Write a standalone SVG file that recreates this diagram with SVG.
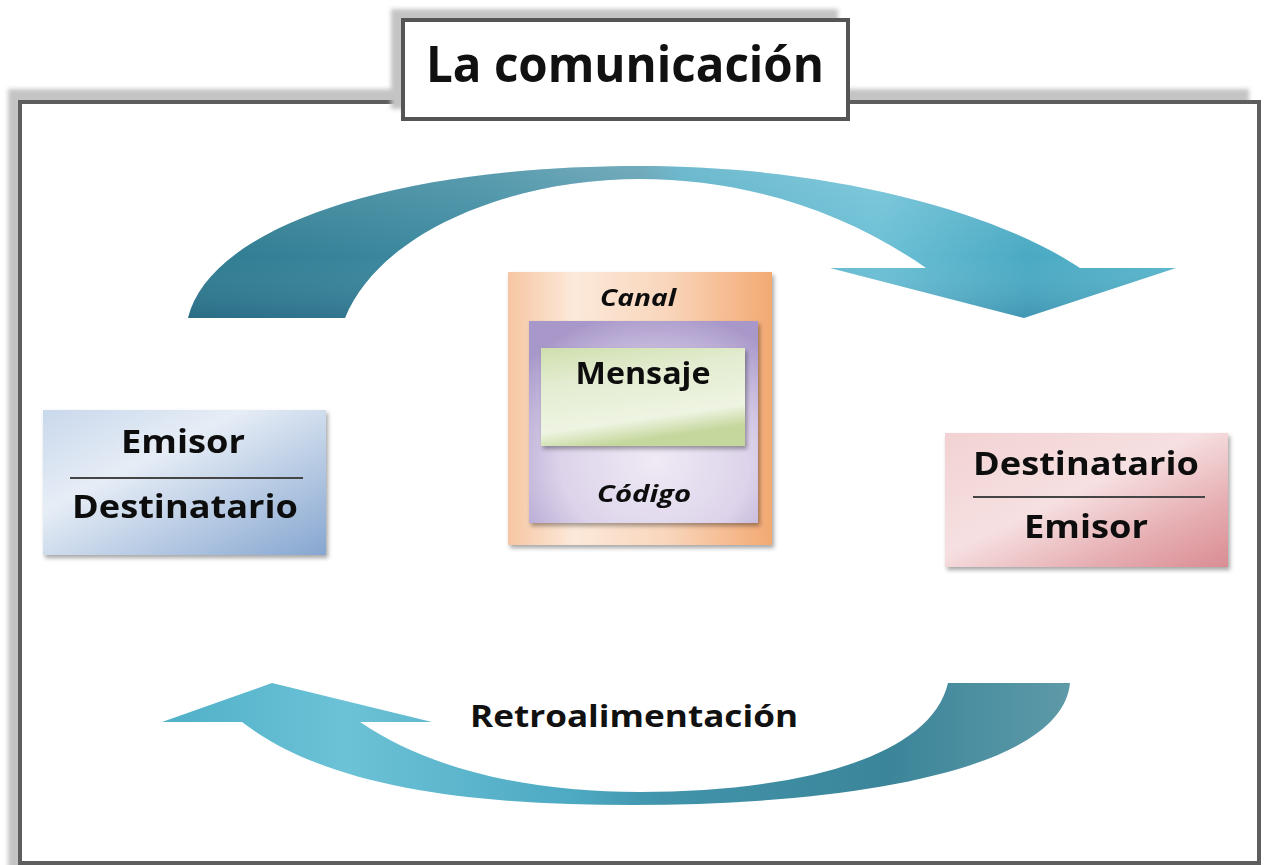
<svg xmlns="http://www.w3.org/2000/svg" width="1266" height="865" viewBox="0 0 1266 865">
<defs>
<style>
.t{font-family:"Open Sans","DejaVu Sans",sans-serif;font-weight:bold;fill:#111;text-anchor:middle}
.it{font-style:italic}
.sep{stroke:#444;stroke-width:2}
</style>
<filter id="sh" x="-10%" y="-10%" width="125%" height="125%"><feDropShadow dx="2" dy="3" stdDeviation="2" flood-color="#000" flood-opacity="0.35"/></filter>
<filter id="blur" x="-5%" y="-5%" width="110%" height="110%"><feGaussianBlur stdDeviation="2"/></filter>
<linearGradient id="gTop" x1="0" y1="0" x2="1" y2="0">
<stop offset="0" stop-color="#2f7b90"/><stop offset="0.3" stop-color="#3f8ca2"/><stop offset="0.46" stop-color="#5a9db0"/><stop offset="0.5" stop-color="#56aec6"/><stop offset="0.7" stop-color="#6cc0d5"/><stop offset="0.85" stop-color="#4aaac3"/><stop offset="1" stop-color="#5bb6cc"/>
</linearGradient>
<linearGradient id="gTopV" x1="0" y1="0" x2="0" y2="1">
<stop offset="0" stop-color="#fff" stop-opacity="0.15"/><stop offset="0.6" stop-color="#fff" stop-opacity="0"/><stop offset="1" stop-color="#003" stop-opacity="0.12"/>
</linearGradient>
<linearGradient id="gBot" x1="0" y1="0" x2="1" y2="0">
<stop offset="0" stop-color="#4fb0c8"/><stop offset="0.2" stop-color="#6cc2d6"/><stop offset="0.45" stop-color="#4daac3"/><stop offset="0.55" stop-color="#4194ab"/><stop offset="0.8" stop-color="#3b8599"/><stop offset="1" stop-color="#5e9aa8"/>
</linearGradient>
<linearGradient id="gBlue" x1="0" y1="0" x2="1" y2="1">
<stop offset="0" stop-color="#c9d8ec"/><stop offset="0.35" stop-color="#e6edf6"/><stop offset="1" stop-color="#86a6d0"/>
</linearGradient>
<linearGradient id="gPink" x1="0" y1="0" x2="1" y2="1">
<stop offset="0" stop-color="#f2d2d3"/><stop offset="0.45" stop-color="#f6e0e1"/><stop offset="0.75" stop-color="#e6aeb2"/><stop offset="1" stop-color="#d98d93"/>
</linearGradient>
<linearGradient id="gOrange" x1="0" y1="0" x2="1" y2="0">
<stop offset="0" stop-color="#f6c6a2"/><stop offset="0.25" stop-color="#fce9da"/><stop offset="0.6" stop-color="#f9d6bc"/><stop offset="1" stop-color="#f3a972"/>
</linearGradient>
<radialGradient id="gPurple" cx="0.55" cy="0.7" r="0.75">
<stop offset="0" stop-color="#efeaf5"/><stop offset="0.55" stop-color="#ddd3ea"/><stop offset="1" stop-color="#a898ca"/>
</radialGradient>
<linearGradient id="gGreen" x1="0" y1="0" x2="0.3" y2="1">
<stop offset="0" stop-color="#cfdfae"/><stop offset="0.35" stop-color="#e3ecd0"/><stop offset="0.8" stop-color="#eef4e2"/><stop offset="1" stop-color="#c4d79c"/>
</linearGradient>
</defs>

<g id="frame">
<rect x="8" y="89" width="1241" height="790" fill="#c4c4c4" filter="url(#blur)"/>
<rect x="20" y="102" width="1239" height="761" fill="#fff" stroke="#5e5e5e" stroke-width="4"/>
</g>

<g id="title">
<rect x="391" y="9" width="447" height="100" fill="#c4c4c4" filter="url(#blur)"/>
<rect x="403" y="20" width="445" height="99" fill="#fff" stroke="#555" stroke-width="4"/>
<text class="t" x="625" y="82" font-size="50" textLength="398" lengthAdjust="spacingAndGlyphs">La comunicación</text>
</g>

<g id="connectors">
<g id="arrow-top">
<path d="M188,318 C210,228 390,166 640,166 C820,166 990,208 1080,268 L1176,268 L1024,318 L830,268 L926,268 C840,208 740,179 640,179 C510,179 380,232 345,318 Z" fill="url(#gTop)"/>
<path d="M188,318 C210,228 390,166 640,166 C820,166 990,208 1080,268 L1176,268 L1024,318 L830,268 L926,268 C840,208 740,179 640,179 C510,179 380,232 345,318 Z" fill="url(#gTopV)"/>
</g>
<g id="arrow-bottom">
<path d="M1070,683 C1062,770 850,805 632,805 C480,805 330,790 242,722 L162,722 L272,683 L432,722 L360,722 C430,770 530,792 640,792 C790,792 930,760 948,683 Z" fill="url(#gBot)"/>
</g>
</g>

<g id="emisor" filter="url(#sh)">
<rect x="43" y="410" width="283" height="145" fill="url(#gBlue)"/>
<text class="t" x="183" y="453" font-size="32" textLength="124" lengthAdjust="spacingAndGlyphs">Emisor</text>
<line class="sep" x1="70" y1="478" x2="303" y2="478"/>
<text class="t" x="185" y="518" font-size="32" textLength="226" lengthAdjust="spacingAndGlyphs">Destinatario</text>
</g>

<g id="destinatario" filter="url(#sh)">
<rect x="945" y="433" width="283" height="134" fill="url(#gPink)"/>
<text class="t" x="1086" y="475" font-size="32" textLength="226" lengthAdjust="spacingAndGlyphs">Destinatario</text>
<line class="sep" x1="973" y1="497" x2="1205" y2="497"/>
<text class="t" x="1086" y="538" font-size="32" textLength="124" lengthAdjust="spacingAndGlyphs">Emisor</text>
</g>

<g id="canal" filter="url(#sh)">
<rect x="508" y="272" width="264" height="273" fill="url(#gOrange)"/>
<text class="t it" x="638" y="306" font-size="24" textLength="76" lengthAdjust="spacingAndGlyphs">Canal</text>
</g>

<g id="codigo" filter="url(#sh)">
<rect x="529" y="321" width="229" height="202" fill="url(#gPurple)"/>
<text class="t it" x="644" y="502" font-size="24" textLength="94" lengthAdjust="spacingAndGlyphs">Código</text>
</g>

<g id="mensaje" filter="url(#sh)">
<rect x="541" y="348" width="204" height="98" fill="url(#gGreen)"/>
<text class="t" x="643" y="384" font-size="30" textLength="135" lengthAdjust="spacingAndGlyphs">Mensaje</text>
</g>

<g id="retro">
<text class="t" x="634" y="727" font-size="31" textLength="328" lengthAdjust="spacingAndGlyphs">Retroalimentación</text>
</g>
</svg>
